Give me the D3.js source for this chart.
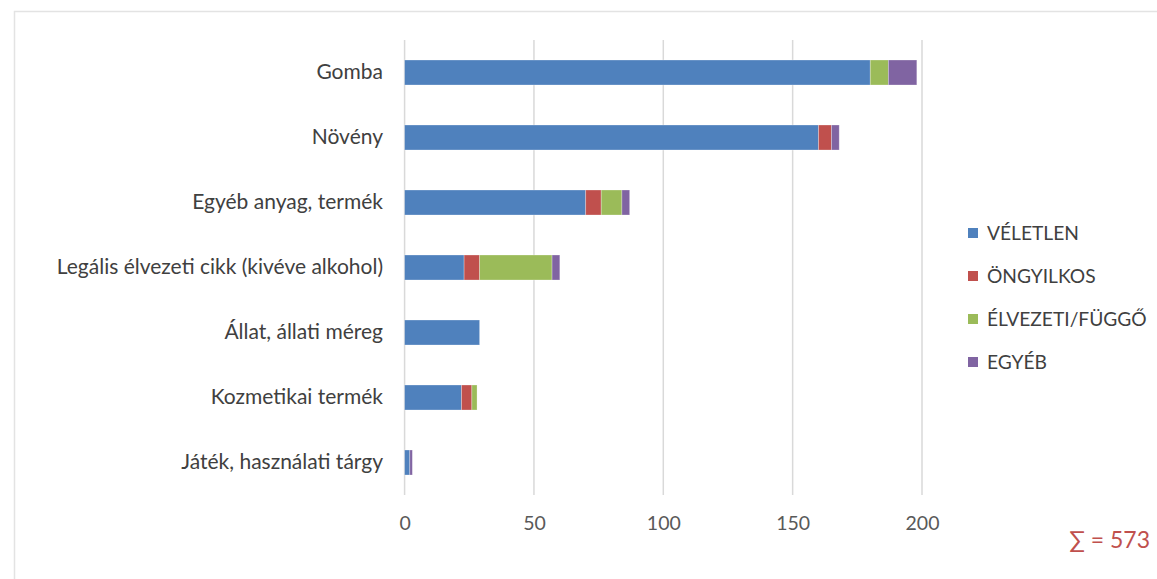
<!DOCTYPE html>
<html><head><meta charset="utf-8">
<script src="https://cdn.jsdelivr.net/npm/d3@7"></script>
<style>body{margin:0;background:#fff;} svg{display:block;}</style>
</head><body>
<svg id="c" width="1157" height="579"></svg>
<script>
const categories = ["Gomba","Növény","Egyéb anyag, termék","Legális élvezeti cikk (kivéve alkohol)","Állat, állati méreg","Kozmetikai termék","Játék, használati tárgy"];
const seriesNames = ["VÉLETLEN","ÖNGYILKOS","ÉLVEZETI/FÜGGŐ","EGYÉB"];
const veletlen  = [180,160,70,23,29,22,2];
const ongyilkos = [0,5,6,6,0,4,0];
const elvezeti  = [7,0,8,28,0,2,0];
const egyeb     = [11,3,3,3,0,0,1];
const xTicks = [0,50,100,150,200];
const totalLabel = "∑ = 573";
const colors = ["#4f81bd","#c0504d","#9bbb59","#8064a2"];

const svg = d3.select("#c");
const font = "Lato, 'Open Sans', sans-serif";

// outer frame
svg.append("rect").attr("x",14.5).attr("y",11.5).attr("width",1200).attr("height",700)
  .attr("fill","none").attr("stroke","#e3e3e3").attr("stroke-width",1.5);

const x = d3.scaleLinear().domain([0,200]).range([404.6,922]);
const y = d3.scaleBand().domain(categories).range([40,495]).paddingInner(40/65).paddingOuter(20/65);

// gridlines
svg.append("g").selectAll("line").data(xTicks).join("line")
  .attr("x1",d=>x(d)).attr("x2",d=>x(d)).attr("y1",40).attr("y2",495)
  .attr("stroke","#d9d9d9").attr("stroke-width",1.5);

// x axis labels
const xAxis = d3.axisBottom(x).tickValues(xTicks).tickSize(0).tickPadding(0);
const gx = svg.append("g").attr("transform","translate(0,523)").call(xAxis);
gx.select(".domain").remove();
gx.selectAll("text").attr("font-family",font).attr("font-size",19.5).attr("fill","#595959").attr("dy","0.35em");

// y labels
const yAxis = d3.axisLeft(y).tickSize(0).tickPadding(0);
const gy = svg.append("g").attr("transform","translate(383,0)").call(yAxis);
gy.select(".domain").remove();
gy.selectAll("text").attr("font-family",font).attr("font-size",21).attr("fill","#404040");

// stacked data
const rows = categories.map((c,i)=>({cat:c, s0:veletlen[i], s1:ongyilkos[i], s2:elvezeti[i], s3:egyeb[i]}));
const stack = d3.stack().keys(["s0","s1","s2","s3"])(rows);

svg.append("g").selectAll("g").data(stack).join("g")
  .attr("fill",(d,i)=>colors[i])
  .selectAll("rect").data(d=>d.filter(p=>p[1]-p[0]>0)).join("rect")
  .attr("x",d=>x(d[0])).attr("width",d=>x(d[1])-x(d[0]))
  .attr("y",d=>y(d.data.cat)).attr("height",y.bandwidth())
  .attr("stroke","rgba(255,255,255,0.35)").attr("stroke-width",0.8);

// legend
const lg = svg.append("g");
seriesNames.forEach((n,i)=>{
  const yy = 233 + i*43;
  lg.append("rect").attr("x",968).attr("y",yy-5).attr("width",10).attr("height",10).attr("fill",colors[i]);
  lg.append("text").attr("x",987).attr("y",yy).attr("dy","0.35em").attr("font-family",font)
    .attr("font-size",19.2).attr("fill","#404040").text(n);
});

// total
svg.append("text").attr("x",1150).attr("y",540).attr("dy","0.35em").attr("text-anchor","end")
  .attr("font-family",font).attr("font-size",23).attr("fill","#c0504d").text(totalLabel);
</script>
</body></html>
